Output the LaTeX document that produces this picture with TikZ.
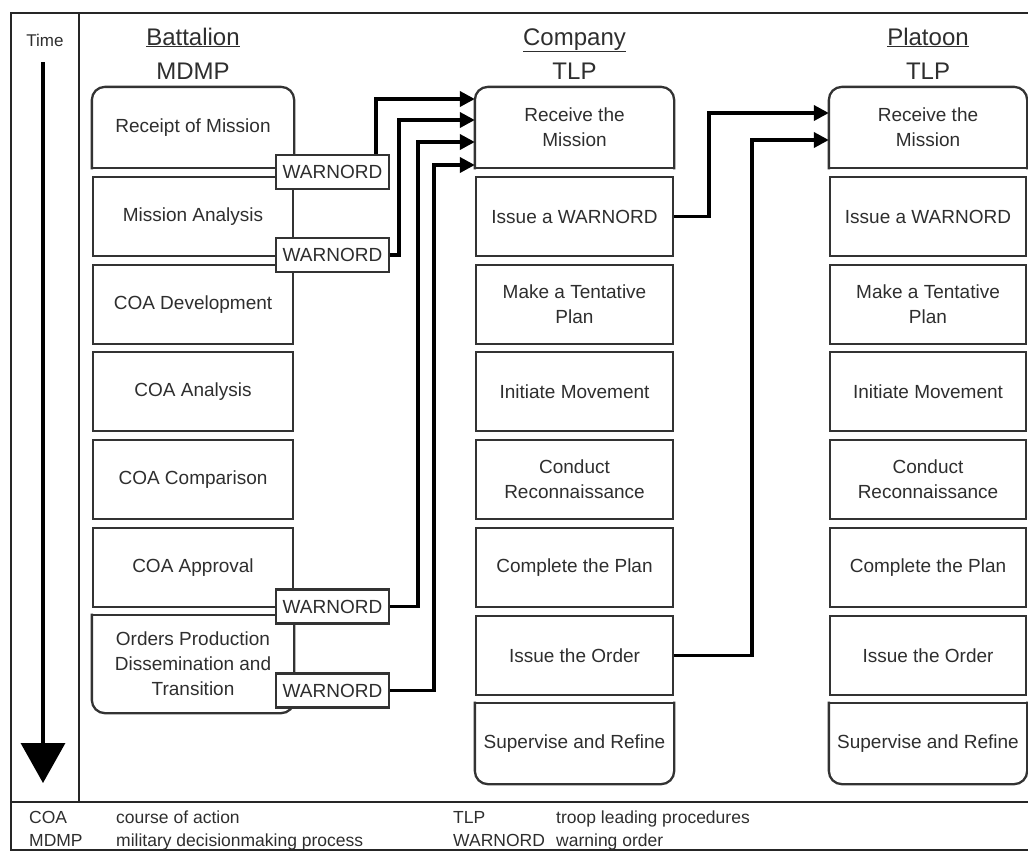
\documentclass[tikz,border=0pt]{standalone}
\usepackage{fontspec}
\setmainfont{Liberation Sans}
\usetikzlibrary{arrows.meta}
\definecolor{boxc}{gray}{0.2}
\definecolor{txtc}{gray}{0.18}
\newcommand{\boxfont}{\fontsize{19}{25}\selectfont\color{txtc}}
\newcommand{\headfont}{\fontsize{24}{28}\selectfont\color{txtc}}
\newcommand{\legfont}{\fontsize{17.5}{19}\selectfont\color{txtc}}
\begin{document}
\begin{tikzpicture}[x=1pt,y=-1pt,
  stage/.style={draw=boxc, line width=2.3pt, minimum height=79pt, inner sep=0pt, align=center, font=\boxfont},
  bat/.style={stage, minimum width=200pt},
  com/.style={stage, minimum width=197pt},
  pla/.style={stage, minimum width=196pt},
  nodraw/.style={draw=none},
  outline/.style={draw=boxc, line width=2.3pt, line cap=rect},
  warn/.style={draw=boxc, fill=white, line width=2.3pt, minimum width=113pt, minimum height=34pt, inner sep=0pt, font=\boxfont},
  flow/.style={line width=3.6pt, -{Triangle[length=15pt,width=15pt]}},
  frameline/.style={draw=black!85, line width=2.5pt},
  head/.style={font=\headfont, inner sep=0pt, anchor=base},
  leg/.style={font=\legfont, anchor=base west, inner sep=0pt}
]
\useasboundingbox (0,0) rectangle (1028,852);
\clip (0,0) rectangle (1028,852);

% frame
\draw[frameline] (11,13) rectangle (1045,850);
\coordinate (divtop) at (79,13);
\coordinate (divbot) at (79,802);
\coordinate (sepl) at (11,802);
\coordinate (sepr) at (1045,802);
\draw[frameline] (divtop) -- (divbot);
\draw[frameline] (sepl) -- (sepr);

% time
\node[font=\fontsize{17}{20}\selectfont\color{txtc}, inner sep=0pt] (time) at (45,40) {Time};
\coordinate (tstart) at (43,62);
\coordinate (tend) at (43,783);
\draw[line width=3.4pt, -{Triangle[length=40pt,width=44pt]}] (tstart) -- (tend);

% headers
\node[head] (hb1) at (193,45) {\underline{Battalion}};
\node[head] (hb2) at (193,79) {MDMP};
\node[head] (hc1) at (574.5,45) {\underline{Company}};
\node[head] (hc2) at (574.5,79) {TLP};
\node[head] (hp1) at (928,45) {\underline{Platoon}};
\node[head] (hp2) at (928,79) {TLP};

% battalion
\node[bat, nodraw] (b1) at (193,127.5) {Receipt of Mission};
\node[bat] (b2) at (193,216.5) {Mission Analysis};
\node[bat] (b3) at (193,304.5) {COA Development};
\node[bat] (b4) at (193,391.5) {COA Analysis};
\node[bat] (b5) at (193,479.5) {COA Comparison};
\node[bat] (b6) at (193,567.5) {COA Approval};
\node[bat, nodraw, minimum height=96pt] (b7) at (193,664) {Orders Production\\Dissemination and\\Transition};

% company
\node[com, nodraw] (c1) at (574.5,127.5) {Receive the\\Mission};
\node[com] (c2) at (574.5,216.5) {Issue a WARNORD};
\node[com] (c3) at (574.5,304.5) {Make a Tentative\\Plan};
\node[com] (c4) at (574.5,391.5) {Initiate Movement};
\node[com] (c5) at (574.5,479.5) {Conduct\\Reconnaissance};
\node[com] (c6) at (574.5,567.5) {Complete the Plan};
\node[com] (c7) at (574.5,655.5) {Issue the Order};
\node[com, nodraw] (c8) at (574.5,743.5) {Supervise and Refine};

% platoon
\node[pla, nodraw] (p1) at (928,127.5) {Receive the\\Mission};
\node[pla] (p2) at (928,216.5) {Issue a WARNORD};
\node[pla] (p3) at (928,304.5) {Make a Tentative\\Plan};
\node[pla] (p4) at (928,391.5) {Initiate Movement};
\node[pla] (p5) at (928,479.5) {Conduct\\Reconnaissance};
\node[pla] (p6) at (928,567.5) {Complete the Plan};
\node[pla] (p7) at (928,655.5) {Issue the Order};
\node[pla, nodraw] (p8) at (928,743.5) {Supervise and Refine};

% rounded outlines
\foreach \n in {b1,c1,p1}{
  \draw[outline, rounded corners=13pt] (\n.south west) -- (\n.north west) -- (\n.north east) -- (\n.south east);
  \draw[outline] (\n.south west) -- (\n.south east);
}
\foreach \n in {b7,c8,p8}{
  \draw[outline, rounded corners=13pt] (\n.north west) -- (\n.south west) -- (\n.south east) -- (\n.north east);
  \draw[outline] (\n.north west) -- (\n.north east);
}

% warnord tags
\node[warn] (w1) at (332.5,172) {WARNORD};
\node[warn] (w2) at (332.5,255) {WARNORD};
\node[warn] (w3) at (332.5,606.5) {WARNORD};
\node[warn] (w4) at (332.5,690.5) {WARNORD};

% connectors to company
\draw[flow] ([xshift=-14pt]w1.north east) |- ([yshift=28.5pt]c1.west);
\draw[flow] (w2.east) -- ++(9,0) |- ([yshift=7.5pt]c1.west);
\draw[flow] (w3.east) -- ++(28,0) |- ([yshift=-14.5pt]c1.west);
\draw[flow] (w4.east) -- ++(44,0) |- ([yshift=-37.5pt]c1.west);

% connectors to platoon
\draw[flow] (c2.east) -- ++(35,0) |- ([yshift=14.5pt]p1.west);
\draw[flow] (c7.east) -- ++(78,0) |- ([yshift=-12.5pt]p1.west);

% legend
\node[leg] (l1) at (29,823) {COA};
\node[leg] (l2) at (116,823) {course of action};
\node[leg] (l3) at (29,846) {MDMP};
\node[leg] (l4) at (116,846) {military decisionmaking process};
\node[leg] (l5) at (453,823) {TLP};
\node[leg] (l6) at (556,823) {troop leading procedures};
\node[leg] (l7) at (453,846) {WARNORD};
\node[leg] (l8) at (556,846) {warning order};
\end{tikzpicture}
\end{document}
